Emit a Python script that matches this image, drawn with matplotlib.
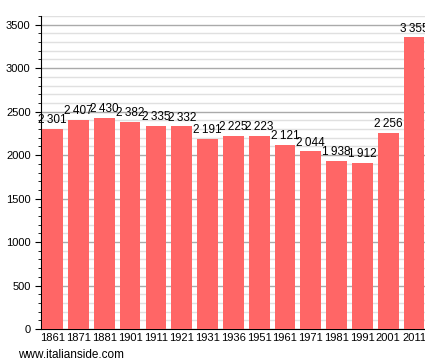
import matplotlib
matplotlib.use("Agg")
import matplotlib.pyplot as plt
from matplotlib.ticker import MultipleLocator

plt.rcParams['font.family'] = ['Liberation Sans', 'DejaVu Sans']

years = ["1861","1871","1881","1901","1911","1921","1931","1936","1951","1961","1971","1981","1991","2001","2011"]
population = [2301,2407,2430,2382,2335,2332,2191,2225,2223,2121,2044,1938,1912,2256,3355]

fig = plt.figure(figsize=(4.25,3.63), dpi=100)
ax = fig.add_axes([41/425, 34/363, 386/425, (329-16)/363])
x = list(range(len(years)))
ax.bar(x, population, width=0.8, color="#ff6666", zorder=3)
ax.set_xlim(-0.45, len(years)-0.5)
ax.set_ylim(0, 3600)
ax.yaxis.set_major_locator(MultipleLocator(500))
ax.yaxis.set_minor_locator(MultipleLocator(100))
ax.grid(axis="y", which="major", color="#aaaaaa", lw=1, zorder=0)
ax.grid(axis="y", which="minor", color="#e0e0e0", lw=1, zorder=0)
ax.set_xticks(x)
ax.set_xticklabels(years, fontsize=8)
ax.tick_params(axis="x", length=0, pad=3)
ax.tick_params(axis="y", which="major", length=4, labelsize=8, colors="black")
ax.tick_params(axis="y", which="minor", length=2)
for s in ["top","right"]:
    ax.spines[s].set_visible(False)
for s in ["left","bottom"]:
    ax.spines[s].set_color("black")
for xi, v in zip(x, population):
    lab = f"{v:,}".replace(",", "\u2009")
    ax.text(xi, v + 30, lab, ha="center", va="bottom", fontsize=8.5, zorder=4, clip_on=False)
fig.text(18/425, 1-355/363, "www.italianside.com", fontsize=8.5, va="center", ha="left")
fig.savefig("out.png", dpi=100)
